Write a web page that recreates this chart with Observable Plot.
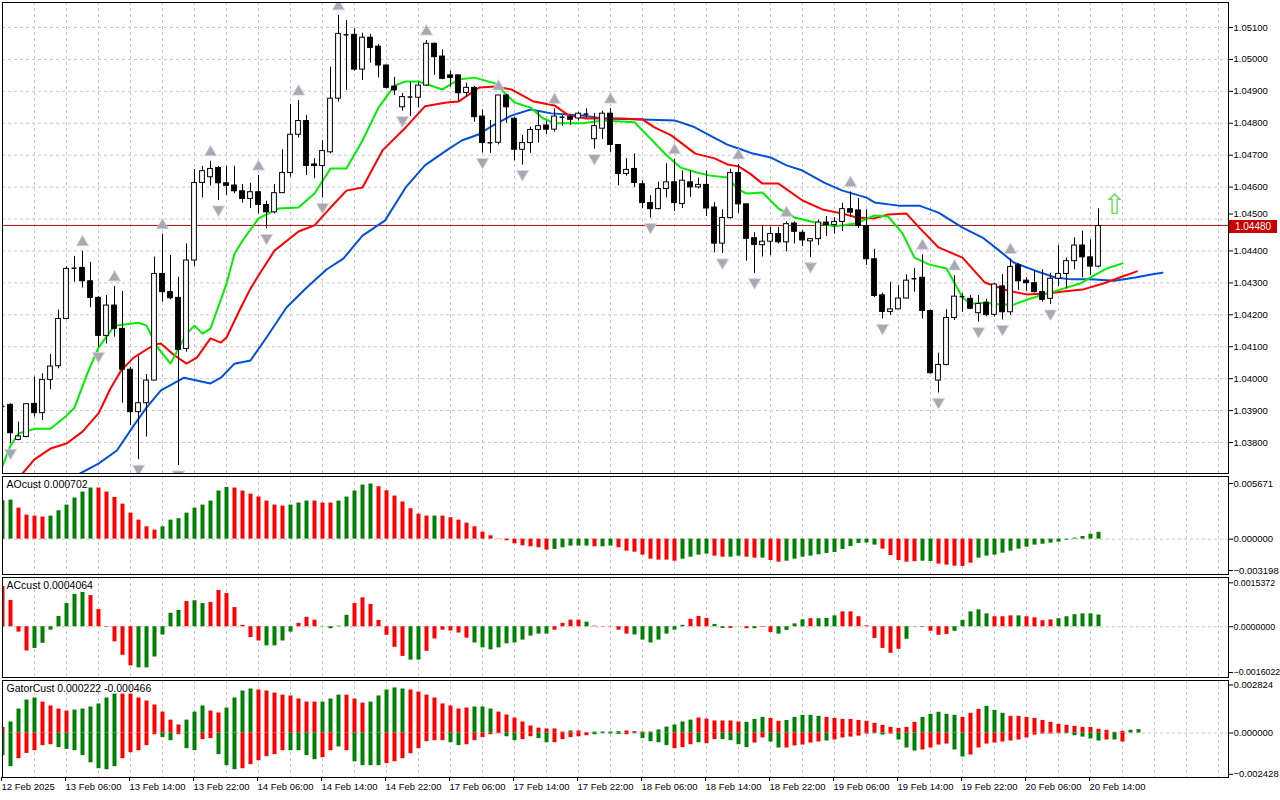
<!DOCTYPE html>
<html><head><meta charset="utf-8">
<script src="https://cdn.jsdelivr.net/npm/d3@7"></script>
<script src="https://cdn.jsdelivr.net/npm/@observablehq/plot@0.6"></script>
<style>
body{margin:0;background:#fff;width:1280px;height:800px;overflow:hidden;position:relative;font-family:"Liberation Sans",sans-serif}
svg{position:absolute;left:0;top:0}
#pl{position:absolute;left:1229px;top:220px;width:48px;height:13px;background:#c80000;color:#fff;font-size:10px;line-height:13px;text-align:center}
</style></head><body>
<div id="pl">1.04480</div>
<script>
const opens=[1.03913,1.03918,1.03808,1.03817,1.03921,1.03892,1.03996,1.04039,1.04187,1.04346,1.04347,1.04305,1.04253,1.04134,1.04229,1.04156,1.04028,1.03895,1.03923,1.03994,1.04328,1.04271,1.04253,1.04093,1.04370,1.04613,1.04631,1.04660,1.04612,1.04605,1.04587,1.04563,1.04584,1.04544,1.04521,1.04581,1.04644,1.04764,1.04807,1.04671,1.04666,1.04709,1.04877,1.05080,1.05077,1.04968,1.05068,1.05040,1.04981,1.04915,1.04850,1.04882,1.04880,1.04918,1.05049,1.05009,1.04950,1.04950,1.04895,1.04911,1.04821,1.04739,1.04739,1.04887,1.04814,1.04717,1.04738,1.04779,1.04793,1.04780,1.04819,1.04819,1.04815,1.04829,1.04750,1.04783,1.04830,1.04732,1.04641,1.04657,1.04609,1.04550,1.04531,1.04594,1.04615,1.04547,1.04615,1.04599,1.04607,1.04536,1.04423,1.04503,1.04644,1.04546,1.04440,1.04418,1.04429,1.04453,1.04427,1.04486,1.04457,1.04430,1.04437,1.04489,1.04481,1.04491,1.04531,1.04527,1.04478,1.04374,1.04261,1.04209,1.04217,1.04251,1.04313,1.04316,1.04212,1.03994,1.04043,1.04190,1.04257,1.04250,1.04205,1.04238,1.04200,1.04289,1.04208,1.04355,1.04307,1.04299,1.04271,1.04250,1.04313,1.04328,1.04368,1.04417,1.04380,1.04351];
const highs=[1.03915,1.03921,1.03864,1.03922,1.04005,1.04015,1.04076,1.04215,1.04351,1.04383,1.04399,1.04364,1.04257,1.04260,1.04289,1.04273,1.04036,1.04069,1.04013,1.04381,1.04452,1.04386,1.04318,1.04422,1.04655,1.04665,1.04681,1.04665,1.04665,1.04665,1.04608,1.04612,1.04636,1.04556,1.04608,1.04717,1.04859,1.04871,1.04824,1.04689,1.04746,1.04976,1.05138,1.05122,1.05096,1.05082,1.05078,1.05047,1.04981,1.04944,1.04894,1.04929,1.04929,1.05059,1.05051,1.05030,1.04963,1.04950,1.04926,1.04915,1.04842,1.04809,1.04887,1.04890,1.04819,1.04762,1.04788,1.04835,1.04806,1.04845,1.04824,1.04826,1.04834,1.04845,1.04831,1.04838,1.04846,1.04732,1.04689,1.04704,1.04620,1.04573,1.04615,1.04673,1.04687,1.04651,1.04651,1.04628,1.04651,1.04552,1.04529,1.04656,1.04671,1.04546,1.04457,1.04478,1.04474,1.04474,1.04491,1.04491,1.04465,1.04437,1.04497,1.04508,1.04504,1.04550,1.04585,1.04564,1.04529,1.04405,1.04268,1.04302,1.04291,1.04325,1.04345,1.04388,1.04215,1.04080,1.04216,1.04323,1.04266,1.04260,1.04260,1.04249,1.04299,1.04326,1.04375,1.04360,1.04316,1.04337,1.04341,1.04330,1.04417,1.04378,1.04441,1.04462,1.04435,1.04532];
const lows=[1.03905,1.03796,1.03805,1.03815,1.03880,1.03869,1.03965,1.04031,1.04184,1.04302,1.04284,1.04222,1.04099,1.04109,1.04130,1.03923,1.03853,1.03746,1.03817,1.03994,1.04240,1.04247,1.03728,1.04083,1.04351,1.04566,1.04603,1.04558,1.04574,1.04579,1.04550,1.04533,1.04516,1.04469,1.04516,1.04581,1.04631,1.04754,1.04636,1.04626,1.04566,1.04704,1.04866,1.04903,1.04963,1.04934,1.04988,1.04942,1.04908,1.04887,1.04838,1.04821,1.04848,1.04915,1.04950,1.04936,1.04913,1.04869,1.04882,1.04803,1.04707,1.04706,1.04732,1.04800,1.04682,1.04669,1.04706,1.04738,1.04765,1.04772,1.04790,1.04793,1.04807,1.04814,1.04719,1.04749,1.04709,1.04604,1.04634,1.04599,1.04533,1.04503,1.04529,1.04566,1.04524,1.04533,1.04568,1.04594,1.04508,1.04394,1.04392,1.04500,1.04518,1.04368,1.04330,1.04381,1.04385,1.04422,1.04397,1.04422,1.04414,1.04380,1.04417,1.04445,1.04453,1.04461,1.04506,1.04470,1.04355,1.04254,1.04187,1.04198,1.04216,1.04250,1.04271,1.04187,1.04014,1.03955,1.04040,1.04182,1.04208,1.04216,1.04177,1.04194,1.04194,1.04184,1.04198,1.04276,1.04274,1.04268,1.04240,1.04232,1.04289,1.04281,1.04341,1.04316,1.04323,1.04347];
const closes=[1.03913,1.03829,1.03819,1.03920,1.03892,1.03996,1.04038,1.04187,1.04344,1.04346,1.04305,1.04253,1.04134,1.04229,1.04156,1.04028,1.03895,1.03923,1.03994,1.04328,1.04271,1.04252,1.04090,1.04370,1.04613,1.04650,1.04657,1.04612,1.04604,1.04587,1.04563,1.04584,1.04544,1.04521,1.04581,1.04644,1.04764,1.04807,1.04666,1.04666,1.04713,1.04877,1.05080,1.05077,1.04968,1.05068,1.05036,1.04981,1.04911,1.04903,1.04882,1.04882,1.04918,1.05049,1.05007,1.04939,1.04942,1.04894,1.04911,1.04819,1.04738,1.04739,1.04887,1.04850,1.04717,1.04738,1.04779,1.04791,1.04780,1.04821,1.04819,1.04811,1.04830,1.04829,1.04791,1.04830,1.04732,1.04641,1.04654,1.04613,1.04550,1.04531,1.04594,1.04615,1.04550,1.04620,1.04599,1.04607,1.04533,1.04423,1.04503,1.04644,1.04546,1.04438,1.04419,1.04429,1.04453,1.04427,1.04484,1.04460,1.04433,1.04437,1.04489,1.04481,1.04491,1.04531,1.04520,1.04478,1.04374,1.04259,1.04209,1.04217,1.04251,1.04307,1.04313,1.04212,1.04017,1.04043,1.04190,1.04257,1.04257,1.04219,1.04234,1.04199,1.04295,1.04208,1.04350,1.04305,1.04299,1.04271,1.04247,1.04313,1.04328,1.04368,1.04417,1.04380,1.04351,1.04478];

const lips=[[0,1.03727],[1,1.03790],[2,1.03828],[4,1.03843],[6,1.03843],[8,1.03884],[9,1.03909],[10.6,1.04016],[12,1.04097],[14,1.04166],[17,1.04175],[18,1.04166],[19.4,1.04097],[21,1.04047],[23,1.04141],[24,1.04166],[25,1.04141],[26,1.04157],[28,1.04297],[29,1.04391],[30,1.04432],[32,1.04502],[34.5,1.04533],[37,1.04536],[39,1.04580],[41,1.04658],[43,1.04658],[45,1.04746],[47,1.04849],[49,1.04918],[50.4,1.04931],[52,1.04931],[55,1.04906],[57,1.04937],[59,1.04943],[61.6,1.04925],[64,1.04865],[66,1.04849],[67.6,1.04815],[69,1.04800],[72.6,1.04800],[75,1.04809],[79,1.04803],[80.6,1.04762],[83,1.04700],[84.8,1.04661],[86.8,1.04646],[88.5,1.04636],[90.6,1.04630],[92,1.04592],[93,1.04580],[95,1.04583],[97,1.04533],[99,1.04505],[101.6,1.04489],[104,1.04477],[106.6,1.04486],[109,1.04511],[110.7,1.04508],[112.5,1.04455],[114,1.04379],[115.8,1.04358],[118,1.04345],[120,1.04254],[121,1.04235],[123,1.04238],[124.7,1.04232],[126.4,1.04232],[128.5,1.04251],[130.6,1.04267],[132.6,1.04282],[134.7,1.04298],[136.4,1.04323],[138,1.04345],[140,1.04361]];
const teeth=[[2.5,1.03703],[4,1.03747],[6,1.03781],[8,1.03797],[10,1.03834],[12,1.03891],[13.5,1.03969],[14.8,1.04025],[16.4,1.04066],[19,1.04107],[19.8,1.04110],[21.4,1.04075],[23,1.04047],[24.3,1.04066],[26,1.04126],[27.3,1.04113],[28,1.04129],[29.8,1.04223],[31,1.04282],[32,1.04323],[34,1.04401],[37,1.04461],[39,1.04480],[41,1.04536],[43,1.04589],[45,1.04599],[47.5,1.04715],[50.4,1.04787],[52.8,1.04853],[55.5,1.04865],[57,1.04868],[59.6,1.04912],[61.6,1.04915],[63.6,1.04906],[66.4,1.04868],[69,1.04856],[70.8,1.04824],[73,1.04815],[77.5,1.04815],[80,1.04812],[81.5,1.04787],[83.6,1.04762],[86.6,1.04705],[89,1.04690],[90.6,1.04671],[92,1.04665],[93.4,1.04643],[95,1.04611],[97,1.04611],[100,1.04558],[102.5,1.04530],[105,1.04517],[106.8,1.04505],[109,1.04502],[110.7,1.04514],[113,1.04517],[114.6,1.04473],[117,1.04411],[120,1.04379],[122.8,1.04301],[125.6,1.04276],[128,1.04264],[130.6,1.04267],[132.6,1.04273],[135,1.04279],[137.6,1.04298],[140,1.04320],[141.8,1.04336]];
const jaw=[[9.7,1.03703],[12,1.03734],[14.3,1.03775],[16.4,1.03853],[18,1.03909],[19.8,1.03963],[22.7,1.04003],[26,1.03985],[27.3,1.04003],[29,1.04047],[31,1.04057],[33,1.04129],[35.5,1.04223],[38,1.04285],[40.5,1.04342],[42.6,1.04376],[45,1.04448],[47.8,1.04495],[50.4,1.04599],[52.8,1.04668],[55.5,1.04715],[57.4,1.04746],[59.5,1.04765],[61.3,1.04793],[63.6,1.04824],[66,1.04843],[68.6,1.04831],[72.5,1.04824],[75,1.04815],[80,1.04812],[84,1.04809],[86.3,1.04790],[88.4,1.04762],[90.6,1.04733],[92,1.04721],[93.8,1.04705],[96,1.04693],[98,1.04668],[100,1.04652],[102.7,1.04614],[105,1.04589],[108,1.04567],[109,1.04552],[112,1.04542],[114.6,1.04542],[117,1.04520],[120,1.04473],[122.5,1.04442],[124.4,1.04405],[126.4,1.04364],[129,1.04339],[131.6,1.04317],[133.6,1.04311],[136,1.04311],[139,1.04307],[141.6,1.04317],[143.6,1.04326],[145,1.04332]];

const fractalUp=[10,14,20,26,32,37,42,53,62,69,76,84,92,98,106,115,119,126];
const fractalDown=[1,12,17,22,27,33,40,50,60,65,74,81,90,94,101,110,117,122,125,131];

const aoValues=[.00391,.00398,.00316,.00245,.00235,.00225,.00235,.00289,.00347,.00419,.00480,.00521,.00521,.00480,.00425,.00357,.00265,.00194,.00126,.00092,.00126,.00194,.00208,.00265,.00316,.00347,.00388,.00490,.00527,.00521,.00490,.00459,.00429,.00388,.00347,.00337,.00347,.00368,.00388,.00388,.00368,.00368,.00388,.00429,.00490,.00551,.00562,.00534,.00493,.00439,.00378,.00310,.00255,.00235,.00235,.00235,.00218,.00194,.00163,.00126,.00071,.00034,.00003,-.00017,-.00048,-.00068,-.00078,-.00088,-.00112,-.00105,-.00088,-.00071,-.00071,-.00071,-.00078,-.00078,-.00071,-.00088,-.00122,-.00133,-.00163,-.00204,-.00214,-.00214,-.00225,-.00204,-.00184,-.00163,-.00153,-.00174,-.00184,-.00184,-.00174,-.00184,-.00194,-.00194,-.00218,-.00235,-.00225,-.00204,-.00184,-.00174,-.00160,-.00146,-.00136,-.00105,-.00075,-.00044,-.00040,-.00061,-.00102,-.00167,-.00218,-.00235,-.00230,-.00225,-.00228,-.00255,-.00265,-.00276,-.00278,-.00245,-.00194,-.00174,-.00163,-.00143,-.00122,-.00102,-.00082,-.00061,-.00051,-.00041,-.00031,-.00010,.00010,.00027,.00050,.00070];
const aoColors="ggrrrrggggggrrrrrrrrgggggggggrrrrrrrgggrrrgggggrrrrrrrgrrrrrrrrrrrrrrgggggrggrrrrrrrrggggrrggrrgrrggggggggggggrrrrrggrrrrrgggggggggggggggggg";
const acValues=[.00141,.00092,-.00019,-.00085,-.00076,-.00058,-.00012,.00036,.00081,.00113,.00120,.00109,.00060,-.00002,-.00053,-.00100,-.00137,-.00144,-.00144,-.00106,-.00029,.00047,.00057,.00088,.00091,.00081,.00085,.00127,.00116,.00067,.00005,-.00038,-.00050,-.00067,-.00067,-.00050,-.00019,.00012,.00033,.00023,.00001,-.00007,.00002,.00040,.00081,.00101,.00078,.00022,-.00030,-.00072,-.00104,-.00117,-.00117,-.00086,-.00043,-.00012,-.00015,-.00022,-.00040,-.00057,-.00074,-.00081,-.00074,-.00060,-.00057,-.00047,-.00033,-.00026,-.00026,-.00012,.00012,.00023,.00023,.00016,.00002,-.00001,.00001,-.00012,-.00026,-.00029,-.00047,-.00057,-.00047,-.00026,-.00012,.00005,.00026,.00036,.00029,.00008,-.00006,-.00006,.00000,-.00007,-.00007,-.00002,-.00020,-.00026,-.00013,.00010,.00024,.00028,.00028,.00029,.00038,.00052,.00052,.00035,.00003,-.00041,-.00076,-.00093,-.00079,-.00044,-.00001,-.00002,-.00016,-.00030,-.00027,-.00016,.00022,.00052,.00059,.00045,.00035,.00035,.00038,.00038,.00035,.00031,.00021,.00024,.00028,.00035,.00042,.00045,.00045,.00041];
const acColors="rrrrgggggggrrrrrrggggggrggrrrrrrrggggrrrggggrrrrrrrggrrrrrrggggggggggrrrrgrrrrrgggggggrrrggrrrgrrggggrgggrrrrrrrrgggrrrgggggrrrgrrrrggggggr";
const gatorUp=[.00033,.00065,.00141,.00194,.00206,.00182,.00159,.00141,.00129,.00135,.00141,.00153,.00171,.00206,.00229,.00229,.00229,.00206,.00188,.00165,.00123,.00076,.00047,.00076,.00123,.00159,.00129,.00118,.00147,.00206,.00247,.00259,.00253,.00247,.00235,.00223,.00218,.00200,.00182,.00182,.00182,.00200,.00223,.00223,.00200,.00176,.00182,.00218,.00253,.00265,.00259,.00253,.00241,.00223,.00206,.00171,.00159,.00141,.00147,.00153,.00153,.00141,.00123,.00106,.00088,.00065,.00041,.00029,.00024,.00024,.00006,.00012,.00012,.00002,.00006,.00006,.00006,.00008,.00012,.00008,.00006,.00006,.00018,.00035,.00047,.00065,.00076,.00088,.00082,.00071,.00071,.00071,.00065,.00063,.00080,.00092,.00086,.00069,.00074,.00092,.00104,.00104,.00098,.00092,.00086,.00080,.00080,.00074,.00069,.00057,.00045,.00033,.00027,.00033,.00063,.00092,.00110,.00122,.00110,.00104,.00092,.00116,.00139,.00157,.00133,.00116,.00098,.00098,.00092,.00086,.00074,.00063,.00051,.00045,.00039,.00033,.00033,.00022,.00016,.00004,.00010,.00016,.00020];
const gatorUpColors="rggggrrrrggggggrrrrrrrrgggrrggggrrrrrrrrgggrrrgggggrrrrrrrrgggrrrrrrrrrgrrggggrrrggggggrrrrrrgggrrgggggrrrrrrrrrrrrgggggrrrgggrrrrrrrrrrrrrrrggg";
const gatorDown=[-.00133,-.00198,-.00151,-.00120,-.00104,-.00074,-.00069,-.00086,-.00096,-.00104,-.00133,-.00175,-.00210,-.00216,-.00198,-.00151,-.00116,-.00104,-.00074,-.00010,-.00027,-.00045,-.00010,-.00092,-.00104,-.00039,-.00033,-.00127,-.00192,-.00216,-.00210,-.00186,-.00163,-.00139,-.00127,-.00104,-.00104,-.00104,-.00133,-.00157,-.00145,-.00104,-.00082,-.00104,-.00169,-.00192,-.00192,-.00192,-.00180,-.00169,-.00151,-.00122,-.00092,-.00051,-.00045,-.00045,-.00057,-.00074,-.00069,-.00045,-.00027,-.00010,-.00004,-.00022,-.00045,-.00039,-.00022,-.00033,-.00057,-.00057,-.00039,-.00027,-.00022,-.00016,-.00010,-.00004,-.00006,-.00008,-.00010,-.00004,-.00033,-.00051,-.00057,-.00074,-.00092,-.00086,-.00069,-.00057,-.00063,-.00039,-.00039,-.00045,-.00069,-.00086,-.00059,-.00029,-.00053,-.00088,-.00088,-.00076,-.00071,-.00059,-.00053,-.00047,-.00041,-.00029,-.00024,-.00018,-.00006,-.00004,-.00012,-.00006,-.00041,-.00088,-.00106,-.00100,-.00088,-.00071,-.00065,-.00100,-.00141,-.00129,-.00088,-.00065,-.00059,-.00053,-.00047,-.00041,-.00029,-.00012,-.00006,-.00006,-.00004,-.00004,-.00016,-.00024,-.00035,-.00047,-.00041,-.00041,-.00053];
const gatorDownColors="ggrrrrrggggggggrrrrrggrggrrgggrrrrrrggggrrgrggggrrrrrrrrggrrrrrggrrggrrrrrggggrgggggrrrgrrggggrrggrrrrrgrrrrrggrgggrrrrggrrrrrrrrrrrrgggggrg";

const timeLabels=["12 Feb 2025","13 Feb 06:00","13 Feb 14:00","13 Feb 22:00","14 Feb 06:00","14 Feb 14:00","14 Feb 22:00","17 Feb 06:00","17 Feb 14:00","17 Feb 22:00","18 Feb 06:00","18 Feb 14:00","18 Feb 22:00","19 Feb 06:00","19 Feb 14:00","19 Feb 22:00","20 Feb 06:00","20 Feb 14:00"];
const priceTicks=[1.038,1.039,1.040,1.041,1.042,1.043,1.044,1.045,1.046,1.047,1.048,1.049,1.050,1.051];
const currentPrice=1.04480;

const GREEN="#008000", RED="#ff0000", GRID="#c8c8c8";
const col=c=>c==="g"?GREEN:RED;
const idx=d3.range(opens.length);
const gridIdx=d3.range(0,154,4);
const X={domain:[0,137],range:[2,1098]};
const base=(top,bottom,y,marks)=>Plot.plot({width:1280,height:800,marginLeft:2,marginRight:52,marginTop:top,marginBottom:800-bottom,
  x:{...X,axis:null},y:{...y,axis:null},
  style:{background:"transparent",fontFamily:"Liberation Sans, sans-serif",fontSize:"9.5px",color:"#000",overflow:"visible"},
  marks});
const vgrid=Plot.gridX(gridIdx,{stroke:GRID,strokeOpacity:1,strokeDasharray:"3,3"});
const frame=Plot.frame({stroke:"#000"});
const bars=(vals,colors)=>Plot.ruleX(vals.map((v,i)=>i),{x:i=>i,y1:0,y2:i=>vals[i],stroke:i=>col(colors[i]),strokeWidth:4,clip:true});
const zeroLine=Plot.ruleY([0],{stroke:GRID,strokeDasharray:"3,3"});
const label=t=>Plot.text([t],{frameAnchor:"top-left",dx:4,dy:4,fontSize:10.5,fill:"#000"});
const axisR=(ticks,fmt,fs)=>Plot.axisY(ticks,{anchor:"right",tickSize:4,tickPadding:1,tickFormat:d3.format(fmt),fontSize:fs||9.5});

const doji=idx.filter(i=>Math.abs(opens[i]-closes[i])<0.00003);
const mainP=base(2,473,{domain:[1.038,1.051],range:[442,27]},[
  Plot.gridY(priceTicks,{stroke:GRID,strokeOpacity:1,strokeDasharray:"3,3"}),vgrid,
  Plot.ruleY([currentPrice],{stroke:"#a01010"}),
  Plot.line(jaw,{x:d=>d[0],y:d=>d[1],stroke:"#0050d8",strokeWidth:2,clip:true}),
  Plot.line(teeth,{x:d=>d[0],y:d=>d[1],stroke:"#ff0000",strokeWidth:2,clip:true}),
  Plot.line(lips,{x:d=>d[0],y:d=>d[1],stroke:"#00ee00",strokeWidth:2,clip:true}),
  Plot.ruleX(idx,{x:i=>i,y1:i=>lows[i],y2:i=>highs[i],stroke:"#000",clip:true}),
  Plot.rect(idx.filter(i=>!doji.includes(i)),{x1:i=>i-0.3,x2:i=>i+0.3,y1:i=>opens[i],y2:i=>closes[i],fill:i=>closes[i]>=opens[i]?"#fff":"#000",stroke:"#000",clip:true}),
  Plot.ruleY(doji,{y:i=>closes[i],x1:i=>i-0.3,x2:i=>i+0.3,stroke:"#000",strokeWidth:1.5,clip:true}),
  Plot.dot(fractalUp,{x:i=>i,y:i=>highs[i],dy:-9,symbol:"triangle",r:4.5,fill:"#a8a8b4",stroke:"#d4d4dc",strokeWidth:0.8,clip:true}),
  Plot.dot(fractalDown,{x:i=>i,y:i=>lows[i],dy:9,symbol:"triangle",rotate:180,r:4.5,fill:"#a8a8b4",stroke:"#d4d4dc",strokeWidth:0.8,clip:true}),
  Plot.text(["⇧"],{x:139,y:1.04545,fontSize:28,fill:"#66dd55",fontFamily:"DejaVu Sans"}),
  frame,
  axisR(priceTicks.filter(t=>t!==1.045),".5f"),
  Plot.axisY([1.045],{anchor:"right",tickSize:4,tickPadding:1,tickFormat:d3.format(".5f"),fontSize:9.5,dy:-5})
]);
const aoP=base(476,574,{domain:[-0.003198,0.005671],range:[570,483]},[
  vgrid,zeroLine,bars(aoValues,aoColors),frame,label("AOcust 0.000702"),
  axisR([-0.003198,0,0.005671],".6f")
]);
const acP=base(577,677,{domain:[-0.0016022,0.0015372],range:[672,582.3]},[
  vgrid,zeroLine,bars(acValues,acColors),frame,label("ACcust 0.0004064"),
  axisR([-0.0016022,0,0.0015372],".7f",8.8)
]);
const gP=base(680,777,{domain:[-0.002428,0.002824],range:[773.8,684.5]},[
  vgrid,zeroLine,bars(gatorUp,gatorUpColors),bars(gatorDown,gatorDownColors),frame,label("GatorCust 0.000222 -0.000466"),
  axisR([-0.002428,0,0.002824],".6f"),
  Plot.axisX(d3.range(0,137,8),{anchor:"bottom",tickSize:4,tickPadding:2,textAnchor:"start",dx:-1,fontSize:9.5,tickFormat:d=>timeLabels[d/8]})
]);
[mainP,aoP,acP,gP].forEach(s=>document.body.appendChild(s));
document.body.appendChild(document.getElementById("pl"));
</script></body></html>
